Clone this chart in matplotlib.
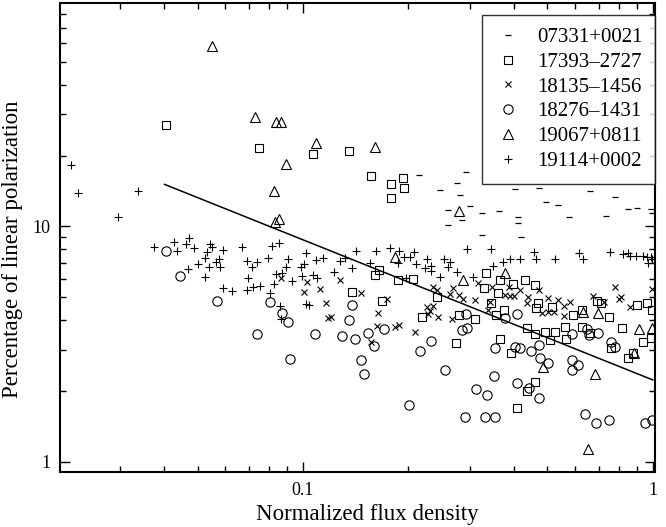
import matplotlib
matplotlib.use("Agg")
import matplotlib.pyplot as plt
from matplotlib.ticker import FixedLocator, FixedFormatter, LogLocator, NullFormatter

plt.rcParams['font.family'] = ['Liberation Serif', 'DejaVu Serif']

# ---------------- data ----------------
series_names = ["07331+0021", "17393\u20132727", "18135\u20131456",
                "18276\u20131431", "19067+0811", "19114+0002"]

dash_x = [0.214, 0.292, 0.275, 0.246, 0.281, 0.404, 0.472, 0.661, 0.778, 0.494, 0.535,
          0.260, 0.300, 0.285, 0.325, 0.363, 0.411, 0.411, 0.260, 0.325, 0.420, 0.575,
          0.734, 0.849, 0.900, 0.986, 0.993]
dash_y = [16.6, 17.1, 15.3, 14.3, 13.6, 14.5, 14.6, 14.2, 13.4, 12.7, 12.4,
          11.8, 12.2, 10.7, 11.4, 11.6, 11.0, 10.3, 10.1, 9.2, 9.0, 11.0,
          11.1, 11.9, 12.0, 11.9, 11.4]

square_x = [0.0406, 0.0749, 0.107, 0.135, 0.156, 0.178, 0.193, 0.194, 0.178,
            0.138, 0.165, 0.161, 0.168, 0.187, 0.207, 0.219, 0.242, 0.274, 0.334,
            0.329, 0.367, 0.361, 0.399, 0.344, 0.375, 0.280, 0.311, 0.356, 0.366,
            0.393, 0.432, 0.462, 0.470, 0.465, 0.514, 0.438, 0.462, 0.491, 0.508,
            0.525, 0.561, 0.566, 0.591, 0.628, 0.628, 0.661, 0.695, 0.710, 0.751,
            0.818, 0.900, 0.962, 0.998, 0.936, 0.986, 0.847, 0.880, 0.759, 0.410,
            0.461, 0.436]
square_y = [27.1, 21.6, 20.4, 21.0, 16.4, 15.2, 16.0, 14.6, 13.2,
            5.25, 6.55, 6.20, 4.83, 5.93, 5.96, 4.14, 5.03, 3.19, 6.37,
            5.46, 5.93, 5.24, 5.70, 4.73, 4.40, 4.19, 4.04, 4.21, 3.34,
            2.89, 5.93, 5.65, 4.75, 4.50, 4.57, 3.71, 3.49, 3.57, 3.31,
            3.57, 3.75, 3.33, 4.21, 4.43, 3.75, 3.52, 4.81, 4.73, 4.11,
            3.70, 4.66, 4.72, 4.43, 3.23, 3.36, 2.77, 2.89, 3.06, 1.70,
            2.19, 2.01]

cross_x = [0.0865, 0.103, 0.112, 0.101, 0.128, 0.116, 0.118, 0.120, 0.147, 0.164,
           0.163, 0.156, 0.174, 0.183, 0.188, 0.209, 0.236, 0.242, 0.268, 0.263,
           0.280, 0.287, 0.310, 0.226, 0.236, 0.231, 0.228, 0.244, 0.266, 0.317,
           0.348, 0.378, 0.390, 0.401, 0.388, 0.343, 0.338, 0.417, 0.439, 0.472,
           0.436, 0.502, 0.535, 0.558, 0.580, 0.502, 0.481, 0.522, 0.558, 0.675,
           0.726, 0.778, 0.800, 0.814, 0.859, 0.998]
cross_y = [6.06, 5.79, 5.42, 5.28, 5.93, 4.72, 4.07, 4.13, 5.22, 4.28,
           3.79, 3.23, 4.92, 3.75, 3.82, 3.58, 5.54, 5.36, 5.50, 5.17,
           5.12, 4.92, 4.87, 4.57, 4.58, 4.37, 4.25, 4.14, 4.03, 5.74,
           5.56, 5.12, 5.09, 5.05, 5.56, 4.76, 4.43, 5.38, 5.03, 5.35,
           4.72, 4.95, 4.85, 4.60, 4.80, 4.35, 4.28, 4.35, 4.17, 5.07,
           4.80, 5.52, 4.91, 5.01, 4.57, 5.42]

circle_x = [0.0405, 0.0444, 0.0568, 0.0805, 0.0869, 0.0908, 0.0740, 0.108, 0.0918, 0.138,
            0.135, 0.129, 0.141, 0.153, 0.160, 0.171, 0.232, 0.216, 0.292, 0.284,
            0.294, 0.378, 0.408, 0.354, 0.404, 0.417, 0.448, 0.472, 0.475, 0.502,
            0.586, 0.647, 0.657, 0.698, 0.759, 0.778, 0.147, 0.149, 0.255, 0.201,
            0.290, 0.331, 0.354, 0.313, 0.336, 0.352, 0.410, 0.443, 0.472, 0.586,
            0.612, 0.587, 0.640, 0.690, 0.750, 0.949, 0.998]
circle_y = [7.90, 6.18, 4.82, 4.80, 4.28, 3.92, 3.48, 3.48, 2.74, 4.64,
            4.01, 3.41, 3.32, 3.52, 3.12, 3.67, 3.27, 2.97, 4.24, 3.63,
            3.70, 4.07, 4.24, 3.06, 3.08, 3.05, 2.97, 3.14, 2.77, 2.64,
            3.49, 3.66, 3.46, 3.52, 3.24, 3.08, 2.71, 2.36, 2.45, 1.74,
            1.55, 1.55, 1.55, 2.05, 1.92, 2.32, 2.17, 2.07, 1.87, 2.45,
            2.58, 2.70, 1.59, 1.46, 1.51, 1.47, 1.50]

tri_x = [0.0550, 0.0729, 0.0837, 0.0865, 0.109, 0.0894, 0.0826, 0.0854, 0.0832, 0.161,
         0.279, 0.183, 0.287, 0.378, 0.631, 0.697, 0.912, 0.993, 0.883, 0.485,
         0.683, 0.652]
tri_y = [58.2, 29.3, 27.9, 27.9, 22.7, 18.5, 14.2, 10.8, 10.4, 21.8,
         11.6, 7.43, 5.93, 6.36, 4.33, 4.30, 3.67, 3.71, 2.90, 2.53,
         2.36, 1.13]

plus_x = [0.0217, 0.0228, 0.0338, 0.0296,
          0.0376, 0.0428, 0.0437, 0.0464, 0.0473, 0.0488, 0.0544, 0.0550, 0.0591, 0.0671,
          0.0533, 0.0523, 0.0502, 0.0470, 0.0539, 0.0564, 0.0574, 0.0580, 0.0526, 0.0591,
          0.0628,
          0.0690, 0.0740, 0.0716, 0.0698, 0.0721, 0.0753, 0.0690, 0.0814, 0.0854, 0.0796,
          0.0908, 0.0893, 0.102, 0.109, 0.114, 0.0987, 0.101, 0.0836, 0.0873, 0.0995,
          0.107, 0.110, 0.0929, 0.0828, 0.0805, 0.0860, 0.0865, 0.102, 0.104, 0.123,
          0.128, 0.132, 0.138, 0.142, 0.162, 0.155,
          0.177, 0.188, 0.195, 0.202, 0.208, 0.187, 0.211, 0.226, 0.223, 0.232,
          0.233, 0.246, 0.253, 0.263, 0.260, 0.275, 0.294, 0.344, 0.350, 0.373,
          0.392, 0.307, 0.197,
          0.417, 0.465, 0.458, 0.527, 0.615, 0.632, 0.753, 0.822, 0.849, 0.859,
          0.893, 0.938, 0.960, 0.991, 0.970, 0.996]
plus_y = [18.3, 13.9, 14.1, 11.0,
          8.17, 8.59, 7.88, 8.41, 8.93, 8.09, 8.41, 8.22, 7.96, 8.22,
          7.78, 7.34, 6.93, 6.59, 6.76, 7.06, 7.26, 6.76, 6.12, 5.47,
          5.32,
          7.14, 7.06, 6.70, 6.03, 5.56, 5.59, 5.38, 8.28, 8.49, 7.34,
          7.26, 6.76, 7.71, 7.21, 7.38, 6.72, 6.92, 6.27, 6.37, 6.18,
          6.22, 6.07, 5.87, 5.69, 5.21, 4.61, 4.05, 4.69, 4.63, 6.40,
          7.14, 7.34, 6.65, 7.88, 7.88, 7.03,
          8.09, 7.88, 7.45, 7.45, 7.78, 6.99, 6.92, 7.26, 6.65, 6.82,
          6.47, 6.12, 7.26, 7.10, 6.76, 6.40, 8.04, 8.04, 6.82, 7.06,
          7.30, 6.12, 6.03,
          7.26, 7.26, 7.83, 7.31, 7.75, 7.26, 7.78, 7.65, 7.71, 7.53,
          7.51, 7.51, 7.41, 7.45, 7.03, 7.26]

fit_x = [0.0402, 1.0]
fit_y = [15.1, 2.23]

x_major = [0.1, 1]
x_major_labels = ["0.1", "1"]
y_major = [1, 10]
y_major_labels = ["1", "10"]

# ---------------- figure ----------------
fig = plt.figure(figsize=(6.66, 5.27), dpi=100)
ax = fig.add_axes([60/666, 1 - 472/527, 595/666, 469/527])

common = dict(linestyle='none', color='black', mfc='none', mec='black')
ax.plot(dash_x, dash_y, marker='_', markersize=5.0, mew=0.9, label=series_names[0], **common)
ax.plot(square_x, square_y, marker='s', markersize=5.6, mew=0.8, label=series_names[1], **common)
ax.plot(cross_x, cross_y, marker='x', markersize=4.6, mew=0.8, label=series_names[2], **common)
ax.plot(circle_x, circle_y, marker='o', markersize=6.7, mew=0.8, label=series_names[3], **common)
ax.plot(tri_x, tri_y, marker='^', markersize=6.5, mew=0.8, label=series_names[4], **common)
ax.plot(plus_x, plus_y, marker='+', markersize=5.4, mew=0.8, label=series_names[5], **common)

ax.plot(fit_x, fit_y, color='black', linewidth=1.1)

ax.set_xscale('log')
ax.set_yscale('log')
ax.set_xlim(0.0202, 1.015)
ax.set_ylim(0.906, 89)

ax.xaxis.set_major_locator(FixedLocator(x_major))
ax.xaxis.set_major_formatter(FixedFormatter(x_major_labels))
ax.yaxis.set_major_locator(FixedLocator(y_major))
ax.yaxis.set_major_formatter(FixedFormatter(y_major_labels))
ax.xaxis.set_minor_locator(LogLocator(base=10, subs=range(2, 10), numticks=20))
ax.yaxis.set_minor_locator(LogLocator(base=10, subs=range(2, 10), numticks=20))
ax.xaxis.set_minor_formatter(NullFormatter())
ax.yaxis.set_minor_formatter(NullFormatter())

ax.tick_params(which='both', direction='in', top=True, right=True, labelsize=13,
               color='black')
ax.tick_params(which='major', length=7.5, width=1.0, pad=7)
ax.tick_params(which='minor', length=4, width=1.0)
for s in ax.spines.values():
    s.set_linewidth(1.5)

ax.set_xlabel("Normalized flux density", fontsize=16.5)
ax.set_ylabel("Percentage of linear polarization", fontsize=16.5)
ax.xaxis.set_label_coords(0.516, -0.068)
ax.yaxis.set_label_coords(-0.062, 0.475)

leg = ax.legend(loc='upper right', bbox_to_anchor=(1.0, 1 - 12/469),
                borderaxespad=0, fontsize=15, frameon=True, fancybox=False,
                edgecolor='black', handlelength=1.3, handletextpad=0.75,
                borderpad=0.6, labelspacing=0.25, numpoints=1)
leg.get_frame().set_linewidth(1.0)

fig.savefig("out.png", dpi=100)
